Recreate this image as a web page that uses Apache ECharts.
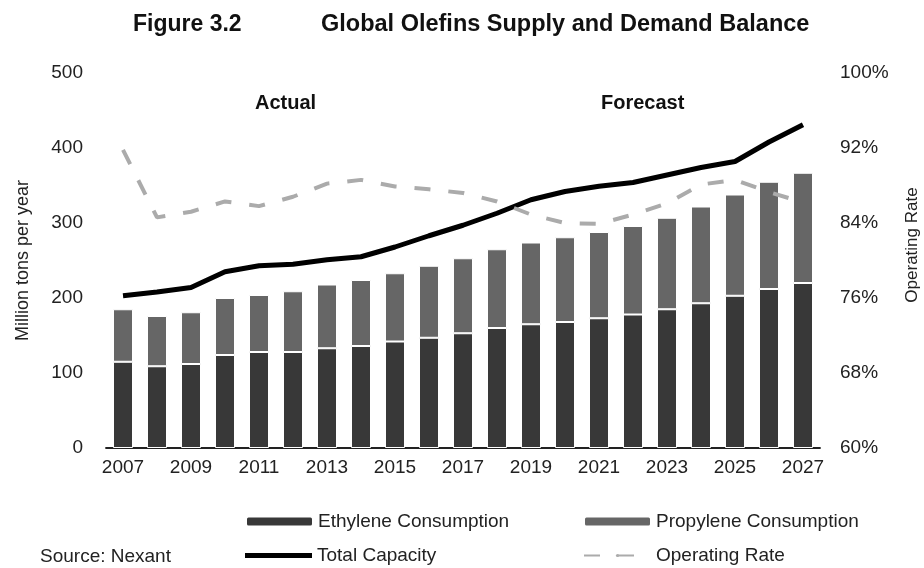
<!DOCTYPE html>
<html>
<head>
<meta charset="utf-8">
<script src="https://cdn.jsdelivr.net/npm/echarts@6/dist/echarts.min.js"></script>
<style>html,body{margin:0;padding:0;background:#fff;}#c{width:924px;height:568px;}</style>
</head>
<body>
<div id="c"></div>
<script>
const years = ['2007','2008','2009','2010','2011','2012','2013','2014','2015','2016','2017','2018','2019','2020','2021','2022','2023','2024','2025','2026','2027'];
const ethylene = [115,109,112,124,128,128,133,136,142,147,153,160,165,168,173,178,185,193,203,212,220];
const propylene = [70,67,69,76,76,81,85,88,91,96,100,105,109,113,115,118,122,129,135,143,147];
const totalCapacity = [203,208,214,235,243,245,251,255,268,283,297,313,331,342,349,354,364,374,382,408,431];
const operatingRate = [91.8,84.6,85.2,86.3,85.8,86.8,88.2,88.6,87.9,87.6,87.2,86.3,84.9,84.0,83.9,84.9,86.1,88.1,88.6,87.3,86.2];
const leftTicks = [0,500,100];
const rightTicks = [60,100,8];

const F = "'Liberation Sans',Arial,sans-serif";
const chart = echarts.init(document.getElementById('c'));
const legendBase = {orient:'horizontal', itemWidth:67, itemHeight:10, itemGap:4,
  textStyle:{fontFamily:F, fontSize:19, color:'#222'}};
chart.setOption({
  animation:false,
  backgroundColor:'#fff',
  textStyle:{fontFamily:F},
  grid:{left:106, right:104, top:73, bottom:120},
  legend:[
    Object.assign({}, legendBase, {left:240, top:507, data:['Ethylene Consumption']}),
    Object.assign({}, legendBase, {left:578, top:507, data:['Propylene Consumption']}),
    Object.assign({}, legendBase, {left:240, top:541, itemHeight:5, data:[{name:'Total Capacity', icon:'rect', itemStyle:{color:'#000'}}]}),
    Object.assign({}, legendBase, {left:578, top:541, itemHeight:4, data:['Operating Rate']})
  ],
  title:[
    {text:'Figure 3.2', left:128, top:8, textStyle:{fontFamily:F, fontSize:23, fontWeight:'bold', color:'#111'}},
    {text:'Global Olefins Supply and Demand Balance', left:316, top:8, textStyle:{fontFamily:F, fontSize:23.5, fontWeight:'bold', color:'#111'}},
    {text:'Actual', left:250, top:88, textStyle:{fontFamily:F, fontSize:20, fontWeight:'bold', color:'#111'}},
    {text:'Forecast', left:596, top:88, textStyle:{fontFamily:F, fontSize:20, fontWeight:'bold', color:'#111'}},
    {text:'Source: Nexant', left:35, top:542, textStyle:{fontFamily:F, fontSize:19, fontWeight:'normal', color:'#222'}}
  ],
  graphic:[
    {type:'text', x:912, y:245, rotation:Math.PI/2,
     style:{text:'Operating Rate', fill:'#222', font:"17px 'Liberation Sans',Arial,sans-serif", textAlign:'center', textVerticalAlign:'middle'}}
  ],
  xAxis:{type:'category', data:years,
    axisLine:{lineStyle:{color:'#222', width:1.8}}, axisTick:{show:false},
    axisLabel:{interval:1, fontFamily:F, fontSize:19, color:'#222', margin:10}},
  yAxis:[
    {type:'value', min:leftTicks[0], max:leftTicks[1], interval:leftTicks[2],
     name:'Million tons per year', nameLocation:'middle', nameGap:74, nameRotate:90,
     nameTextStyle:{fontFamily:F, fontSize:18, color:'#222'},
     axisLine:{show:false}, axisTick:{show:false}, splitLine:{show:false},
     axisLabel:{fontFamily:F, fontSize:19, color:'#222', margin:23}},
    {type:'value', min:rightTicks[0], max:rightTicks[1], interval:rightTicks[2],
     axisLine:{show:false}, axisTick:{show:false}, splitLine:{show:false},
     axisLabel:{fontFamily:F, fontSize:19, color:'#222', margin:20, formatter:'{value}%'}}
  ],
  series:[
    {name:'Ethylene Consumption', type:'bar', stack:'c', data:ethylene, barWidth:20,
     itemStyle:{color:'#383838', borderColor:'#fff', borderWidth:1}},
    {name:'Propylene Consumption', type:'bar', stack:'c', data:propylene, barWidth:20,
     itemStyle:{color:'#666666', borderColor:'#fff', borderWidth:1}},
    {name:'Total Capacity', type:'line', data:totalCapacity, symbol:'none',
     lineStyle:{color:'#000', width:5}, itemStyle:{color:'#000'}},
    {name:'Operating Rate', type:'line', yAxisIndex:1, data:operatingRate, symbol:'none',
     lineStyle:{color:'#ababab', width:4, type:[16,18]}, itemStyle:{color:'#ababab'}}
  ]
});
</script>
</body>
</html>
